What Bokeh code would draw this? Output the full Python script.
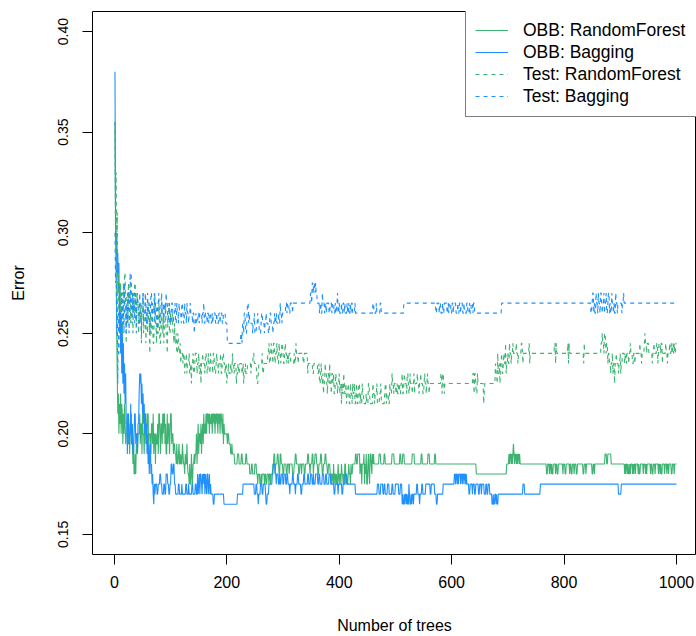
import numpy as np
from bokeh.plotting import figure
from bokeh.models import Range1d, FixedTicker, Legend, LegendItem, NumeralTickFormatter
from bokeh.embed import file_html
from bokeh.resources import INLINE

# ---- data: (number of trees in run, error value) ----
rf_oob = [
    (1,.355),(1,.31),(1,.29),(1,.25),(1,.23),(1,.21),(1,.22),(1,.20),(1,.215),(1,.205),
    (1,.22),(1,.20),(1,.215),(1,.21),(1,.195),(1,.21),(1,.20),(1,.215),(1,.205),(1,.195),
    (2,.20),(1,.21),(2,.195),(1,.205),(1,.19),(2,.20),(1,.21),(2,.195),(1,.185),(1,.195),
    (2,.18),(1,.19),(1,.18),(2,.195),(1,.19),(3,.20),
    (1,.21),(1,.195),(2,.205),(1,.19),(1,.21),(2,.20),(1,.19),(1,.205),(2,.21),(1,.195),
    (1,.20),(2,.21),(1,.19),(2,.20),
    (1,.20),(1,.19),(2,.205),(1,.195),(1,.21),(1,.19),(2,.20),(1,.185),(1,.20),(2,.195),
    (1,.205),(1,.19),(2,.21),(1,.20),(1,.19),(2,.205),(1,.195),(1,.21),(1,.20),(2,.21),
    (1,.195),(1,.205),(2,.19),(1,.21),(1,.195),(2,.205),(1,.19),(1,.20),(2,.21),(1,.195),
    (2,.20),(1,.19),(2,.195),
    (2,.19),(1,.185),(1,.195),(2,.185),(1,.19),(1,.195),(2,.185),(1,.19),(2,.185),(1,.195),
    (1,.19),(2,.185),(1,.18),(1,.19),(2,.185),(1,.195),(1,.185),(2,.18),(1,.175),(1,.185),
    (2,.175),(1,.19),(1,.18),(1,.175),(2,.185),(1,.19),(1,.185),(1,.19),
    (1,.19),(1,.20),(1,.185),(1,.195),(1,.205),(1,.19),(2,.20),(1,.195),(1,.205),(1,.19),
    (1,.20),(1,.205),(1,.195),(1,.21),(1,.20),(1,.205),(1,.20),
    (1,.21),(1,.20),(2,.21),(1,.205),(1,.21),(1,.20),(1,.21),(2,.205),(1,.21),(1,.20),
    (2,.21),(1,.205),(1,.21),(1,.20),(1,.21),(1,.205),(2,.21),(1,.20),(1,.21),(1,.205),
    (1,.21),(1,.20),(2,.21),(1,.205),(1,.20),(1,.21),(1,.195),(1,.205),(1,.20),(2,.20),
    (2,.20),(1,.195),(2,.20),(3,.195),(2,.19),(1,.195),(4,.19),
    (5,.185),(3,.19),(4,.185),(2,.19),(6,.185),(2,.19),(5,.185),
    (3,.18),(2,.185),(4,.18),(3,.185),
    (2,.18),(1,.175),(3,.18),(2,.175),(1,.18),(1,.175),(4,.18),(1,.175),(2,.18),(2,.175),
    (3,.18),(1,.175),(2,.18),(1,.175),(3,.18),
    (2,.185),(2,.19),(1,.18),(3,.185),(2,.19),(1,.185),(2,.18),(2,.19),(3,.185),(2,.18),
    (4,.185),(2,.18),(3,.185),(1,.18),(5,.185),(3,.18),(2,.185),(2,.19),(4,.185),(2,.18),
    (3,.185),(1,.18),(4,.185),(2,.18),(4,.185),
    (2,.19),(2,.185),(1,.18),(3,.185),(2,.19),(1,.18),(2,.185),(3,.19),(2,.185),(2,.18),
    (3,.185),(2,.19),(1,.185),(2,.18),(3,.185),(2,.19),(2,.185),(2,.18),(3,.185),(1,.18),
    (1,.18),(1,.175),(2,.18),(1,.175),(1,.185),(1,.175),(2,.18),(1,.175),(1,.18),(2,.175),
    (1,.185),(1,.18),(1,.175),(2,.18),(1,.175),(1,.185),(2,.18),(1,.175),(1,.18),(1,.175),
    (2,.185),(1,.175),(1,.18),(2,.175),(1,.18),(1,.185),(2,.18),(1,.175),(1,.185),(2,.18),
    (2,.185),
    (3,.185),(2,.19),(2,.185),(4,.19),(1,.18),(2,.185),(1,.175),(3,.185),
    (1,.19),(1,.175),(1,.185),(1,.18),(1,.19),(2,.175),(1,.185),(1,.19),(1,.18),(1,.175),
    (2,.19),(1,.185),(1,.18),(1,.19),(1,.185),(1,.19),(1,.185),
    (8,.185),(3,.19),(6,.185),(2,.19),(12,.185),(4,.19),(10,.185),(2,.19),(3,.185),(3,.19),
    (14,.185),(4,.19),(12,.185),(2,.19),(10,.185),(3,.19),(9,.185),(2,.19),(10,.185),
    (62,.185),(54,.18),(4,.185),
    (1,.19),(1,.185),(2,.19),(1,.185),(1,.19),(1,.185),(1,.19),(1,.195),(1,.19),(1,.185),
    (2,.19),(1,.185),(1,.19),(1,.185),(2,.19),(1,.185),(1,.19),(1,.185),
    (46,.185),
    (2,.18),(3,.185),(1,.18),(2,.185),(1,.18),(1,.185),(2,.18),(4,.185),(1,.18),(2,.185),
    (2,.18),(8,.185),(1,.18),(3,.185),(2,.18),(6,.185),(1,.18),(2,.185),(2,.18),(3,.185),
    (1,.18),(3,.185),(2,.18),(2,.185),
    (8,.185),(2,.18),(3,.185),(1,.18),(10,.185),(2,.18),(2,.185),(1,.18),(13,.185),
    (5,.185),(3,.19),(2,.185),(6,.19),
    (24,.185),
    (1,.18),(1,.185),(1,.18),(2,.185),(1,.18),(1,.185),(2,.18),(1,.185),(1,.18),(3,.185),
    (1,.18),(1,.185),(1,.18),(2,.185),(1,.18),(4,.185),(1,.18),(1,.185),(2,.18),(5,.185),
    (1,.18),(3,.185),(1,.18),(1,.185),(1,.18),(6,.185),(1,.18),(2,.185),(2,.18),(3,.185),
    (1,.18),(5,.185),(1,.18),(2,.185),(1,.18),(1,.185),(2,.18),(4,.185),(1,.18),(3,.185),
    (1,.18),(2,.185),(1,.18),(4,.185),(2,.18),(3,.185),(1,.18),(4,.185),
]

bag_oob = [
    (1,.38),(1,.30),(1,.29),(1,.30),(1,.28),(1,.29),(1,.27),(1,.285),(1,.25),(1,.275),
    (1,.24),(1,.26),(1,.23),(1,.255),(1,.225),(1,.245),(1,.22),(1,.235),(1,.215),(1,.23),
    (2,.205),(1,.19),(2,.21),(1,.195),(2,.20),(1,.215),(2,.195),(1,.205),(2,.19),(1,.20),
    (2,.21),(1,.195),(2,.20),(1,.19),(2,.205),
    (1,.22),(1,.23),(1,.225),(1,.23),(1,.215),(1,.225),(1,.21),(1,.22),(1,.205),(1,.215),
    (1,.20),(1,.21),(1,.195),(1,.205),(1,.19),(1,.20),(1,.185),(1,.195),(1,.18),(1,.19),
    (1,.195),(1,.18),(1,.185),(1,.175),(1,.18),(1,.17),(1,.165),(1,.175),(1,.17),
    (3,.175),(2,.17),(3,.175),(2,.18),(2,.175),(3,.17),(2,.175),(2,.17),(3,.18),(2,.175),
    (2,.17),(2,.175),(2,.185),(2,.18),(2,.185),(2,.175),
    (5,.17),(2,.175),(4,.17),(1,.175),(6,.17),(2,.175),(3,.17),(1,.175),(5,.17),(2,.175),
    (4,.17),(2,.175),(2,.17),
    (1,.18),(1,.17),(1,.175),(1,.18),(1,.17),(2,.18),(1,.175),(1,.17),(1,.18),(1,.175),
    (2,.18),(1,.17),(1,.18),(1,.175),(1,.17),(2,.18),(1,.17),(1,.175),(1,.18),(1,.17),
    (1,.175),(2,.17),
    (2,.17),(2,.165),(17,.17),(24,.165),(10,.17),(20,.175),
    (3,.17),(2,.175),(2,.17),(1,.165),(3,.17),(3,.175),(2,.17),(4,.175),(1,.17),(2,.165),
    (3,.17),(4,.175),
    (2,.175),(2,.18),(3,.185),(2,.18),(1,.175),(3,.18),(2,.175),(1,.18),(2,.175),(3,.18),
    (2,.175),
    (3,.18),(2,.175),(2,.18),(3,.175),(1,.17),(4,.175),(2,.18),(3,.175),(1,.17),(3,.175),
    (2,.18),(4,.175),(2,.17),(3,.175),(2,.18),(5,.175),
    (2,.18),(3,.175),(3,.18),(2,.175),(1,.18),(3,.175),(4,.18),(2,.175),(2,.18),(4,.175),
    (3,.18),(3,.175),(2,.18),(4,.175),(3,.18),
    (6,.175),(2,.17),(5,.175),(1,.17),(6,.175),(2,.17),(4,.175),(3,.18),(15,.175),
    (39,.17),
    (3,.175),(3,.17),(4,.175),(2,.17),(2,.175),(4,.17),(3,.175),(5,.17),(2,.175),(4,.17),
    (6,.175),(3,.17),(3,.175),
    (1,.165),(1,.17),(2,.165),(1,.17),(1,.165),(2,.17),(1,.165),(1,.17),(2,.165),(1,.175),
    (1,.17),(2,.165),(1,.17),(1,.165),(2,.17),(1,.165),(1,.17),
    (4,.17),(2,.175),(3,.17),(1,.165),(3,.17),(2,.175),(5,.17),
    (8,.175),(2,.17),(6,.175),(3,.17),(2,.165),
    (10,.17),(20,.175),
    (2,.18),(1,.175),(2,.18),(1,.175),(1,.18),(1,.175),(3,.18),(1,.175),(2,.18),(1,.175),
    (2,.18),(1,.175),(2,.18),(1,.175),(1,.18),(4,.175),
    (2,.17),(4,.175),(1,.17),(3,.175),(2,.17),(5,.175),(2,.17),(3,.175),(1,.17),(4,.175),
    (3,.17),(2,.175),(2,.17),(3,.175),(4,.17),
    (2,.165),(1,.17),(2,.165),(2,.17),(1,.165),(1,.17),(2,.165),(2,.17),
    (42,.17),(3,.175),(28,.17),(139,.175),(5,.17),(99,.175),
]

rf_test = [
    (1,.355),(1,.30),(1,.33),(1,.29),(1,.31),(1,.27),(1,.28),(1,.255),(1,.275),(1,.26),
    (1,.275),(1,.26),(2,.27),(1,.25),(1,.275),(1,.265),(2,.28),(1,.26),(1,.245),(2,.27),
    (1,.255),(1,.275),(1,.265),(2,.27),(1,.255),(1,.28),(2,.265),(1,.25),(1,.27),(1,.26),
    (2,.275),(1,.265),(1,.255),(1,.27),
    (2,.265),(1,.25),(1,.26),(2,.255),(1,.265),(1,.245),(2,.26),(1,.27),(1,.25),(2,.255),
    (1,.265),(1,.245),(2,.26),(1,.25),(1,.265),(2,.255),(1,.24),(1,.26),(2,.25),(1,.265),
    (1,.255),(2,.245),(1,.26),(1,.27),(2,.255),(1,.245),(1,.26),(2,.25),(1,.265),(1,.255),
    (2,.245),(1,.255),(1,.265),(2,.25),(1,.26),(1,.245),(2,.255),(1,.265),(2,.25),
    (1,.24),(2,.255),(1,.265),(2,.25),(1,.26),
    (2,.255),(1,.26),(2,.25),(1,.245),(1,.255),(2,.245),(1,.25),(2,.24),(1,.25),(1,.245),
    (2,.24),(1,.245),(1,.235),
    (3,.24),(1,.235),(2,.24),(1,.23),(2,.235),(1,.24),(1,.23),(3,.235),(1,.24),(2,.23),
    (1,.235),(1,.225),(2,.235),(1,.24),(2,.23),(1,.235),(3,.24),(1,.23),(2,.235),(1,.24),
    (2,.23),(1,.235),(1,.225),(2,.235),(1,.24),(3,.235),(1,.23),(2,.24),(1,.235),(2,.23),
    (1,.24),(2,.235),(1,.23),(1,.24),(3,.235),(1,.23),(2,.24),(1,.235),
    (2,.23),(1,.235),(1,.24),(2,.235),(1,.23),(3,.235),(1,.24),(2,.23),(1,.235),(2,.24),
    (2,.235),(1,.23),(2,.235),(1,.225),(2,.23),(1,.235),(3,.23),(1,.235),(2,.23),(1,.24),
    (2,.235),(1,.23),(3,.235),(1,.225),(2,.23),(1,.235),(2,.23),(1,.235),(3,.235),(2,.23),
    (1,.235),(1,.225),(2,.23),(1,.235),(3,.23),(1,.235),
    (5,.235),(1,.23),(3,.235),(2,.24),(4,.235),(1,.23),(2,.225),(1,.23),(6,.235),(1,.24),
    (2,.23),(7,.235),
    (2,.24),(1,.245),(2,.235),(1,.24),(1,.245),(2,.24),(1,.235),(2,.245),(1,.24),(1,.235),
    (2,.24),(1,.245),(1,.24),(2,.235),(1,.245),(2,.24),(1,.235),(1,.24),(2,.245),(1,.24),
    (2,.235),(1,.24),(1,.245),(2,.24),(1,.235),(2,.24),(1,.235),(3,.24),
    (6,.235),(1,.24),(2,.235),(1,.245),(3,.24),(1,.235),(8,.24),(2,.235),(6,.24),(1,.23),
    (8,.235),(2,.23),(7,.235),
    (2,.23),(1,.235),(2,.225),(1,.23),(1,.235),(2,.225),(1,.23),(1,.22),(2,.225),(1,.235),
    (2,.23),(1,.225),(1,.22),(2,.23),(1,.225),(1,.235),(2,.225),(1,.22),(2,.23),(1,.225),
    (1,.23),(2,.22),(1,.225),(1,.23),(2,.225),(1,.22),(2,.225),(1,.23),(1,.22),(2,.225),
    (1,.215),(1,.225),(2,.22),(1,.23),(1,.225),(2,.22),(1,.225),(1,.215),(2,.22),(1,.225),
    (1,.22),(2,.215),(1,.225),(2,.22),(1,.215),(1,.225),(2,.22),
    (1,.225),(2,.215),(1,.22),(1,.225),(2,.215),(1,.22),(2,.225),(1,.215),(1,.22),(2,.215),
    (1,.225),(2,.22),
    (4,.215),(1,.22),(3,.215),(2,.225),(1,.22),(5,.215),(1,.225),(2,.22),(1,.215),(3,.22),
    (1,.225),(4,.215),(2,.22),(1,.225),(6,.215),(1,.22),(2,.225),(1,.215),(3,.22),(2,.215),
    (1,.225),(3,.22),(1,.23),(2,.225),(1,.22),(3,.225),(2,.22),(1,.225),(2,.22),(2,.225),
    (2,.22),
    (2,.225),(1,.23),(2,.22),(1,.225),(1,.23),(3,.225),(1,.22),(2,.23),(1,.225),(2,.22),
    (1,.23),(3,.225),(1,.22),(2,.225),(1,.23),(1,.22),(4,.225),(1,.23),(2,.225),(1,.22),
    (2,.225),(1,.23),(3,.225),(2,.22),(1,.225),(1,.23),(2,.225),(1,.22),(1,.225),(1,.23),
    (2,.225),(1,.22),(3,.225),(5,.225),
    (12,.225),(2,.23),(1,.22),(2,.23),(1,.225),(1,.22),(50,.225),(2,.23),(1,.22),(2,.23),
    (1,.225),(2,.22),(1,.23),(10,.225),(1,.215),(1,.22),(17,.225),
    (2,.225),(1,.235),(2,.23),(1,.225),(1,.24),(2,.23),(1,.235),(1,.225),(2,.235),(1,.24),
    (2,.23),(1,.235),(1,.24),(2,.235),(1,.245),(1,.23),(2,.235),(1,.24),(2,.235),(1,.245),
    (2,.24),(1,.235),(2,.24),(1,.245),(1,.24),
    (4,.24),(1,.245),(2,.24),(1,.235),(5,.24),(2,.245),(1,.24),(1,.235),(10,.24),(1,.245),
    (1,.235),(13,.24),
    (30,.24),(2,.245),(1,.235),(1,.245),(20,.24),(1,.245),(1,.235),(1,.245),(25,.24),
    (1,.235),(1,.245),(29,.24),
    (2,.245),(1,.25),(2,.245),(1,.24),(2,.25),(1,.245),(1,.24),(2,.245),(1,.235),(2,.24),
    (2,.235),(1,.23),(2,.235),(1,.24),(1,.23),(2,.235),(1,.225),(2,.235),(1,.24),(3,.235),
    (1,.23),(2,.235),(1,.24),(1,.23),(2,.235),(4,.24),(1,.235),(2,.24),(1,.235),(3,.24),
    (1,.235),(2,.24),(1,.245),(3,.24),(2,.235),(2,.24),(1,.235),(4,.24),(1,.24),
    (3,.24),(1,.245),(2,.24),(1,.235),(4,.24),(1,.245),(1,.25),(2,.245),(1,.24),(3,.245),
    (1,.24),(5,.24),(1,.235),(2,.24),(1,.245),(4,.24),(2,.245),(1,.235),(1,.24),(3,.245),
    (1,.24),(2,.245),(1,.235),(5,.24),(1,.245),(2,.24),(1,.235),(3,.24),(1,.245),(2,.24),
    (1,.245),(2,.24),(1,.245),(1,.24),(1,.245),(2,.24),(2,.245),
]

bag_test = [
    (1,.30),(1,.275),(1,.29),(1,.25),(1,.27),(1,.225),(1,.26),(1,.24),(1,.27),(1,.25),
    (1,.26),(1,.245),(1,.27),(2,.255),(1,.265),(1,.25),(1,.275),(2,.26),(1,.25),(1,.265),
    (1,.255),(2,.27),(1,.25),(1,.26),(1,.28),(2,.265),(1,.255),(1,.27),(1,.26),(2,.265),
    (1,.255),(1,.27),(1,.26),(1,.25),(1,.265),(1,.27),
    (2,.265),(1,.255),(1,.27),(2,.26),(1,.25),(2,.265),(1,.27),(1,.255),(2,.26),(1,.27),
    (1,.265),(2,.255),(1,.27),(1,.26),(2,.265),(1,.25),(1,.26),(2,.27),(1,.255),(1,.265),
    (2,.26),(1,.27),(1,.255),(2,.265),(1,.26),(1,.25),(2,.265),(1,.27),(1,.26),(2,.255),
    (1,.265),(1,.27),(2,.26),(1,.265),(1,.255),(2,.265),(1,.26),(1,.27),(2,.265),
    (1,.255),(2,.26),(1,.265),(2,.255),(1,.26),(2,.265),(1,.26),(1,.255),
    (2,.26),(1,.265),(2,.255),(1,.265),(2,.26),(1,.255),(1,.265),(3,.26),(1,.255),(2,.265),
    (1,.26),(2,.255),(1,.265),(2,.26),(1,.255),(1,.265),(2,.26),(1,.255),(2,.26),(1,.265),
    (3,.26),(1,.255),(2,.26),(1,.25),(2,.255),(1,.26),(3,.255),(2,.26),(1,.255),(4,.26),
    (1,.255),(2,.26),(1,.265),(2,.255),(3,.26),(1,.255),(2,.26),(1,.255),(3,.26),(2,.255),
    (1,.26),(1,.255),(4,.26),(2,.255),(1,.26),(3,.255),(2,.26),(1,.255),(3,.26),(2,.255),
    (4,.26),(3,.255),
    (24,.245),
    (2,.25),(1,.245),(2,.255),(1,.25),(2,.26),(1,.255),(2,.25),(1,.26),(2,.265),(1,.255),
    (1,.26),(2,.255),
    (3,.255),(1,.25),(2,.255),(1,.26),(3,.25),(2,.255),(1,.26),(2,.255),(3,.25),(1,.255),
    (2,.26),(3,.255),(1,.25),(2,.255),(1,.26),(3,.255),(2,.25),(1,.255),(2,.26),(3,.255),
    (1,.25),(2,.255),(1,.26),(2,.255),(1,.26),(3,.255),(1,.26),(2,.255),(1,.265),(2,.26),
    (1,.255),(3,.26),
    (3,.26),(2,.265),(1,.26),(3,.265),(2,.26),(4,.265),(1,.26),(8,.265),
    (23,.265),
    (2,.27),(1,.265),(2,.275),(1,.27),(2,.275),(1,.27),(1,.275),(2,.27),(1,.265),
    (3,.265),(1,.26),(2,.265),(2,.26),(1,.27),(3,.265),(1,.26),(2,.265),(1,.26),(4,.265),
    (2,.26),(3,.265),(1,.26),(3,.265),
    (2,.26),(1,.265),(2,.26),(1,.265),(1,.27),(2,.26),(1,.265),(3,.26),(1,.265),(2,.26),
    (2,.265),(1,.26),(1,.265),(3,.26),(1,.265),(2,.26),(1,.265),(2,.26),(1,.265),(1,.26),
    (2,.265),(4,.26),(1,.265),(3,.26),
    (28,.26),(2,.265),(4,.26),(1,.265),(6,.26),(2,.265),(40,.26),
    (54,.265),
    (3,.265),(2,.26),(4,.265),(1,.26),(2,.265),(3,.26),(1,.265),(2,.26),(5,.265),(2,.26),
    (1,.265),(1,.26),(3,.265),(2,.26),(2,.265),(1,.26),(4,.265),(3,.26),(1,.265),(2,.26),
    (2,.265),(1,.26),(3,.265),(2,.26),(1,.265),(4,.26),(2,.265),(3,.26),(1,.265),(2,.26),
    (3,.265),(1,.26),(2,.265),(6,.26),
    (42,.26),(159,.265),
    (2,.26),(1,.265),(2,.27),(1,.26),(1,.265),(2,.26),(1,.27),(2,.265),(1,.26),(1,.27),
    (2,.265),(1,.26),(2,.27),(1,.265),(1,.26),(2,.265),(1,.27),(1,.26),(2,.265),(1,.27),
    (2,.26),(1,.265),(2,.27),(1,.26),(1,.265),(2,.26),(1,.27),(2,.265),(1,.26),(1,.265),
    (2,.26),(1,.27),(2,.265),(1,.26),(3,.265),(4,.265),(1,.26),(2,.265),(1,.27),(7,.265),
    (87,.265),
]

x_ticks = [0, 200, 400, 600, 800, 1000]
y_ticks = [0.15, 0.20, 0.25, 0.30, 0.35, 0.40]
legend_labels = ["OBB: RandomForest", "OBB: Bagging", "Test: RandomForest", "Test: Bagging"]

GREEN = "#3CB371"
BLUE = "#1E90FF"
FONT = "Liberation Sans"
DASH = "4 4"


def expand(runs):
    lens = [n for n, _ in runs]
    vals = [v for _, v in runs]
    y = np.repeat(np.array(vals, dtype=float), lens)
    x = np.arange(1, len(y) + 1)
    return x, y


p = figure(width=696, height=636, output_backend="svg", toolbar_location=None,
           x_range=Range1d(-39, 1035.7), y_range=Range1d(0.14, 0.41),
           min_border_left=92, min_border_right=0, min_border_top=11,
           min_border_bottom=82)
p.background_fill_color = "white"
p.border_fill_color = "white"
p.xgrid.visible = False
p.ygrid.visible = False
p.outline_line_color = "black"
p.outline_line_width = 1

series = [
    (rf_oob, GREEN, "solid"),
    (bag_oob, BLUE, "solid"),
    (rf_test, GREEN, DASH),
    (bag_test, BLUE, DASH),
]
renderers = []
for runs, col, dash in series:
    xs, ys = expand(runs)
    renderers.append(p.line(xs, ys, line_color=col, line_width=1.1, line_dash=dash))

# axes
p.xaxis.ticker = FixedTicker(ticks=x_ticks)
p.yaxis.ticker = FixedTicker(ticks=y_ticks)
p.yaxis.formatter = NumeralTickFormatter(format="0.00")
p.yaxis.major_label_orientation = "vertical"
for ax in (p.xaxis[0], p.yaxis[0]):
    ax.axis_line_color = None
    ax.major_tick_out = 10
    ax.major_tick_in = 0
    ax.major_tick_line_color = "black"
    ax.minor_tick_line_color = None
    ax.major_label_text_font = FONT
    ax.major_label_text_color = "black"
    ax.axis_label_text_font = FONT
    ax.axis_label_text_font_style = "normal"
    ax.axis_label_text_color = "black"
    ax.axis_label_text_font_size = "16px"

p.xaxis.axis_label = "Number of trees"
p.yaxis.axis_label = "Error"
p.xaxis.major_label_text_font_size = "16px"
p.yaxis.major_label_text_font_size = "14px"
p.xaxis.major_label_standoff = 11
p.xaxis.axis_label_standoff = 26
p.yaxis.major_label_standoff = 14
p.yaxis.axis_label_standoff = 29

# legend
items = [LegendItem(label=lab, renderers=[r]) for lab, r in zip(legend_labels, renderers)]
legend = Legend(items=items, location=(373, 437), margin=0, padding=9,
                spacing=0, label_height=22, glyph_height=22, glyph_width=33,
                label_standoff=15, label_width=175,
                label_text_font=FONT, label_text_font_size="17.5px",
                label_text_color="black",
                border_line_color="black", border_line_width=1,
                background_fill_color="white", background_fill_alpha=1.0)
p.add_layout(legend)

open("out.html", "w").write(file_html(p, INLINE))
